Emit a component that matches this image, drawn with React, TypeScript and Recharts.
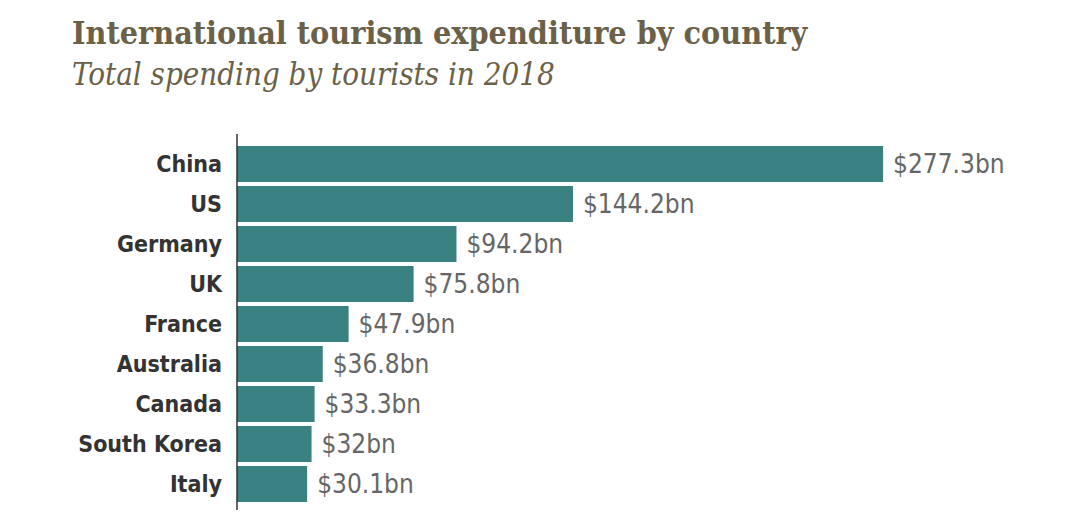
import React from "react";
import { BarChart, Bar, XAxis, YAxis, LabelList } from "recharts";

const countries = ["China", "US", "Germany", "UK", "France", "Australia", "Canada", "South Korea", "Italy"];
const spending = [277.3, 144.2, 94.2, 75.8, 47.9, 36.8, 33.3, 32, 30.1];

const data = countries.map((c, i) => ({ country: c, value: spending[i] }));

const condensed = "'DejaVu Sans Condensed', 'DejaVu Sans', sans-serif";
const serif = "'DejaVu Serif Condensed', 'DejaVu Serif', serif";

export default function App() {
  return (
    <div style={{ position: "absolute", left: 0, top: 0, width: 1080, height: 519, background: "#fff" }}>
      <div style={{ position: "absolute", left: 72, top: 13, fontFamily: serif, fontWeight: 700, fontSize: 32, color: "#6b6149", whiteSpace: "nowrap", lineHeight: "40px" }}>
        International tourism expenditure by country
      </div>
      <div style={{ position: "absolute", left: 72, top: 54, fontFamily: serif, fontStyle: "italic", fontSize: 31, color: "#6b6149", whiteSpace: "nowrap", lineHeight: "40px" }}>
        Total spending by tourists in 2018
      </div>
      <div style={{ position: "absolute", left: 0, top: 0 }}>
        <BarChart
          width={1080}
          height={519}
          data={data}
          layout="vertical"
          margin={{ top: 134, bottom: 9, left: 0, right: 144 }}
        >
          <XAxis type="number" domain={[0, 300]} hide />
          <YAxis
            type="category"
            dataKey="country"
            width={237}
            padding={{ top: 10, bottom: 6 }}
            axisLine={{ stroke: "#333", strokeWidth: 1.5 }}
            tickLine={false}
            tickMargin={9}
            interval={0}
            tick={{ fill: "#333", fontSize: 23, fontFamily: condensed, fontWeight: 700 }}
          />
          <Bar dataKey="value" fill="#3a8182" barSize={36} isAnimationActive={false}>
            <LabelList
              dataKey="value"
              position="right"
              offset={10}
              formatter={(v: number) => `$${v}bn`}
              style={{ fill: "#666", fontSize: 26, fontFamily: condensed, fontWeight: 400 }}
            />
          </Bar>
        </BarChart>
      </div>
    </div>
  );
}
